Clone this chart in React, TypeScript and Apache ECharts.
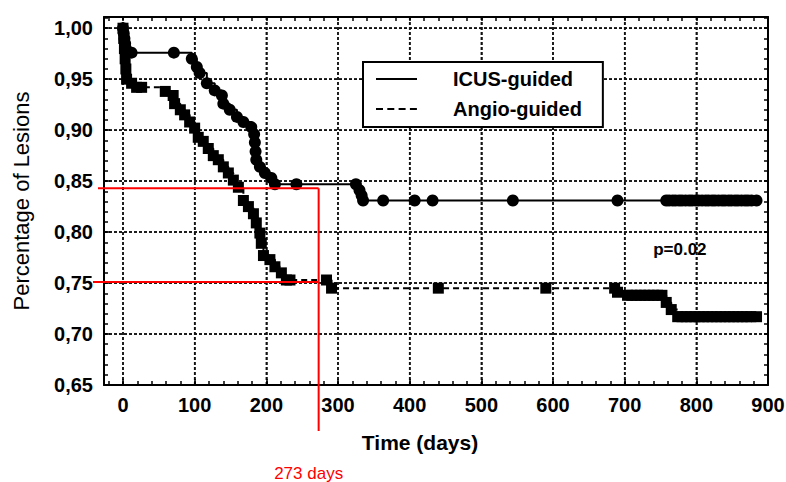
import React, { useEffect, useRef } from 'react';
import * as echarts from 'echarts';

// ---- Data (Kaplan–Meier curves) ----
const ICUS_DAYS = [
  0, 1, 2, 3, 4, 6, 12, 71, 96, 103, 107, 117, 128, 138, 140, 149, 159, 168, 179,
  183, 184, 185, 186, 191, 198, 207, 212, 242, 325, 330, 333, 335,
  363, 407, 432, 544, 690,
  758, 762, 767, 771, 776, 780, 785, 790, 794, 799, 803, 808, 813, 817, 822, 826,
  831, 836, 840, 845, 849, 854, 858, 863, 868, 872, 877, 884,
];
const ICUS_SURV = [
  1.0, 0.995, 0.99, 0.985, 0.98, 0.976, 0.976, 0.976, 0.970, 0.962, 0.956, 0.946, 0.939, 0.934, 0.926, 0.920, 0.913, 0.908, 0.903,
  0.896, 0.888, 0.879, 0.871, 0.864, 0.858, 0.853, 0.847, 0.847, 0.847, 0.841, 0.836, 0.831,
  0.831, 0.831, 0.831, 0.831, 0.831,
  0.831, 0.831, 0.831, 0.831, 0.831, 0.831, 0.831, 0.831, 0.831, 0.831, 0.831, 0.831, 0.831, 0.831, 0.831, 0.831,
  0.831, 0.831, 0.831, 0.831, 0.831, 0.831, 0.831, 0.831, 0.831, 0.831, 0.831, 0.831,
];
const ANGIO_DAYS = [
  0, 1, 2, 3, 4, 5, 12, 19, 26,
  59, 70, 72, 80, 86, 93, 100, 105, 112, 119, 126, 133, 140, 147, 154, 161,
  168, 175, 182, 186, 191, 193, 196, 205, 212, 221, 228, 233,
  284, 291, 440, 590, 686, 690,
  704, 710, 716, 722, 728, 734, 740, 746, 752, 758, 765,
  774, 780, 786, 792, 798, 804, 810, 816, 822, 828, 834, 840, 846, 852, 858, 864, 870, 876, 884,
];
const ANGIO_SURV = [
  1.0, 0.99, 0.98, 0.97, 0.96, 0.95, 0.946, 0.942, 0.942,
  0.938, 0.934, 0.926, 0.920, 0.915, 0.908, 0.902, 0.893, 0.889, 0.882, 0.875, 0.871, 0.864, 0.858, 0.851, 0.844,
  0.831, 0.825, 0.818, 0.809, 0.799, 0.789, 0.777, 0.773, 0.766, 0.760, 0.753, 0.753,
  0.753, 0.745, 0.745, 0.745, 0.745, 0.741,
  0.738, 0.738, 0.738, 0.738, 0.738, 0.738, 0.738, 0.738, 0.738, 0.731, 0.724,
  0.717, 0.717, 0.717, 0.717, 0.717, 0.717, 0.717, 0.717, 0.717, 0.717, 0.717, 0.717, 0.717, 0.717, 0.717, 0.717, 0.717, 0.717, 0.717,
];

const SERIES_NAMES = ['ICUS-guided', 'Angio-guided'];
const X_GRID = [0, 100, 200, 300, 400, 500, 600, 700, 800, 900];
const Y_GRID = [0.7, 0.75, 0.8, 0.85, 0.9, 0.95, 1.0];
const X_MIN = -26.5;
const X_MAX = 900;
const Y_MIN = 0.65;
const Y_MAX = 1.011;
const X_TITLE = 'Time (days)';
const Y_TITLE = 'Percentage of Lesions';
const P_LABEL = 'p=0.02';
const P_LABEL_AT = [777, 0.783];
const MARK_DAY = 273;
const MARK_ICUS = 0.843;
const MARK_ANGIO = 0.751;
const MARK_LABEL = '273 days';

const FONT = "'Liberation Sans', Arial, sans-serif";

const isMultiple = (v: number, step: number) => Math.abs(v / step - Math.round(v / step)) < 1e-6;

export default function App() {
  const ref = useRef<HTMLDivElement>(null);

  useEffect(() => {
    if (!ref.current) return;
    const chart = echarts.init(ref.current, undefined, { renderer: 'svg' });

    const gridLine = () => ({ show: true, lineStyle: { color: '#111', width: 1.5, type: [3, 2] } });
    const frameLine = () => ({ show: true, onZero: false, lineStyle: { color: '#000', width: 2 } });

    const minorX = (position: 'bottom' | 'top', showLine: boolean) => ({
      type: 'value', position, min: X_MIN, max: X_MAX, minInterval: 20, maxInterval: 20, splitNumber: 46,
      axisLine: showLine ? frameLine() : { show: false, onZero: false },
      axisTick: { show: true, inside: true, length: 4, lineStyle: { color: '#000', width: 1.5 } },
      axisLabel: { show: false }, splitLine: { show: false },
    });
    const minorY = (position: 'left' | 'right', showLine: boolean) => ({
      type: 'value', position, min: Y_MIN, max: Y_MAX, minInterval: 0.01, maxInterval: 0.01, splitNumber: 36,
      axisLine: showLine ? frameLine() : { show: false, onZero: false },
      axisTick: { show: true, inside: true, length: 4, lineStyle: { color: '#000', width: 1.5 } },
      axisLabel: { show: false }, splitLine: { show: false },
    });

    const option: any = {
      animation: false,
      backgroundColor: '#fff',
      grid: { left: 104, right: 18, top: 17, bottom: 97, containLabel: false, outerBoundsMode: 'none' },
      legend: {
        data: SERIES_NAMES,
        orient: 'vertical',
        left: 363,
        top: 62,
        padding: [7, 21, 8, 12],
        itemGap: 10,
        itemWidth: 41,
        itemHeight: 14,
        borderColor: '#000',
        borderWidth: 2,
        borderRadius: 0,
        backgroundColor: '#fff',
        selectedMode: false,
        itemStyle: { opacity: 0 },
        textStyle: { fontFamily: FONT, fontSize: 20, fontWeight: 'bold', color: '#000', padding: [0, 0, 0, 31], lineHeight: 20 },
        z: 10,
      },
      xAxis: [
        {
          type: 'value', position: 'bottom', min: X_MIN, max: X_MAX, minInterval: 100, maxInterval: 100, splitNumber: 9,
          axisLine: frameLine(),
          axisTick: { show: true, inside: true, length: 6, lineStyle: { color: '#000', width: 1.5 } },
          axisLabel: {
            margin: 10, fontFamily: FONT, fontSize: 20, fontWeight: 'bold', color: '#000',
            formatter: (v: number) => (v >= 0 && isMultiple(v, 100) ? String(Math.round(v)) : ''),
          },
          splitLine: gridLine(),
          name: X_TITLE, nameLocation: 'middle', nameGap: 47,
          nameTextStyle: { fontFamily: FONT, fontSize: 21, fontWeight: 'bold', color: '#000', padding: [0, 32, 0, 0] },
        },
        minorX('bottom', false),
        minorX('top', true),
      ],
      yAxis: [
        {
          type: 'value', position: 'left', min: Y_MIN, max: Y_MAX, splitNumber: 7,
          axisLine: frameLine(),
          axisTick: { show: true, inside: true, length: 6, lineStyle: { color: '#000', width: 1.5 } },
          axisLabel: {
            margin: 11, fontFamily: FONT, fontSize: 20, fontWeight: 'bold', color: '#000',
            formatter: (v: number) => (isMultiple(v, 0.05) && v <= 1.0001 ? v.toFixed(2).replace('.', ',') : ''),
          },
          splitLine: gridLine(),
          name: Y_TITLE, nameLocation: 'middle', nameGap: 72, nameRotate: 90,
          nameTextStyle: { fontFamily: FONT, fontSize: 22, color: '#000' },
        },
        minorY('left', false),
        minorY('right', true),
      ],
      series: [
        { name: SERIES_NAMES[0], type: 'line', data: [], symbol: 'none', color: '#000', lineStyle: { color: '#000', width: 2 } },
        { name: SERIES_NAMES[1], type: 'line', data: [], symbol: 'none', color: '#000', lineStyle: { color: '#000', width: 2, type: [7, 4.3] } },
        {
          name: 'ICUS', type: 'line', step: 'end', xAxisIndex: 0, yAxisIndex: 0,
          data: ICUS_DAYS.map((d, i) => [d, ICUS_SURV[i]]),
          symbol: 'circle', symbolSize: 12, showAllSymbol: true,
          itemStyle: { color: '#000', borderWidth: 0 },
          lineStyle: { color: '#000', width: 2 }, z: 3,
        },
        {
          name: 'Angio', type: 'line', step: 'end', xAxisIndex: 0, yAxisIndex: 0,
          data: ANGIO_DAYS.map((d, i) => [d, ANGIO_SURV[i]]),
          symbol: 'rect', symbolSize: 11, showAllSymbol: true,
          itemStyle: { color: '#000', borderWidth: 0 },
          lineStyle: { color: '#000', width: 2, type: [6, 4] }, z: 3,
        },
      ],
    };
    chart.setOption(option);

    const px = (x: number, y: number) => chart.convertToPixel({ xAxisIndex: 0, yAxisIndex: 0 }, [x, y]) as number[];
    const a = px(MARK_DAY, MARK_ICUS);
    const b = px(MARK_DAY, MARK_ANGIO);
    const p = px(P_LABEL_AT[0], P_LABEL_AT[1]);
    const topLeft = px(X_MIN, Y_MAX);
    const bottomRight = px(X_MAX, Y_MIN);
    const red = { stroke: '#ff0000', lineWidth: 2 };
    const gridStyle = { stroke: '#111', lineWidth: 1.5, lineDash: [3, 2], fill: null };

    const gridElems: any[] = [
      ...X_GRID.map((x) => {
        const q = px(x, Y_MIN);
        return { type: 'line', z: 0, silent: true, shape: { x1: q[0], y1: topLeft[1], x2: q[0], y2: bottomRight[1] }, style: gridStyle };
      }),
      ...Y_GRID.map((y) => {
        const q = px(X_MIN, y);
        return { type: 'line', z: 0, silent: true, shape: { x1: topLeft[0], y1: q[1], x2: bottomRight[0], y2: q[1] }, style: gridStyle };
      }),
    ];

    chart.setOption({
      graphic: [
        ...gridElems,
        { type: 'line', z: 100, shape: { x1: 98, y1: a[1], x2: a[0], y2: a[1] }, style: red },
        { type: 'line', z: 100, shape: { x1: 93, y1: b[1], x2: b[0], y2: b[1] }, style: red },
        { type: 'line', z: 100, shape: { x1: a[0], y1: a[1], x2: a[0], y2: 431 }, style: red },
        {
          type: 'text', z: 100, x: a[0] - 10, y: 473,
          style: { text: MARK_LABEL, fill: '#ff0000', fontFamily: FONT, fontSize: 17, align: 'center', verticalAlign: 'middle' },
        },
        {
          type: 'text', z: 100, x: p[0], y: p[1],
          style: { text: P_LABEL, fill: '#000', fontFamily: FONT, fontSize: 17, fontWeight: 'bold', align: 'center', verticalAlign: 'middle' },
        },
      ],
    });

    return () => chart.dispose();
  }, []);

  return <div ref={ref} style={{ position: 'fixed', left: 0, top: 0, width: 786, height: 482 }} />;
}
